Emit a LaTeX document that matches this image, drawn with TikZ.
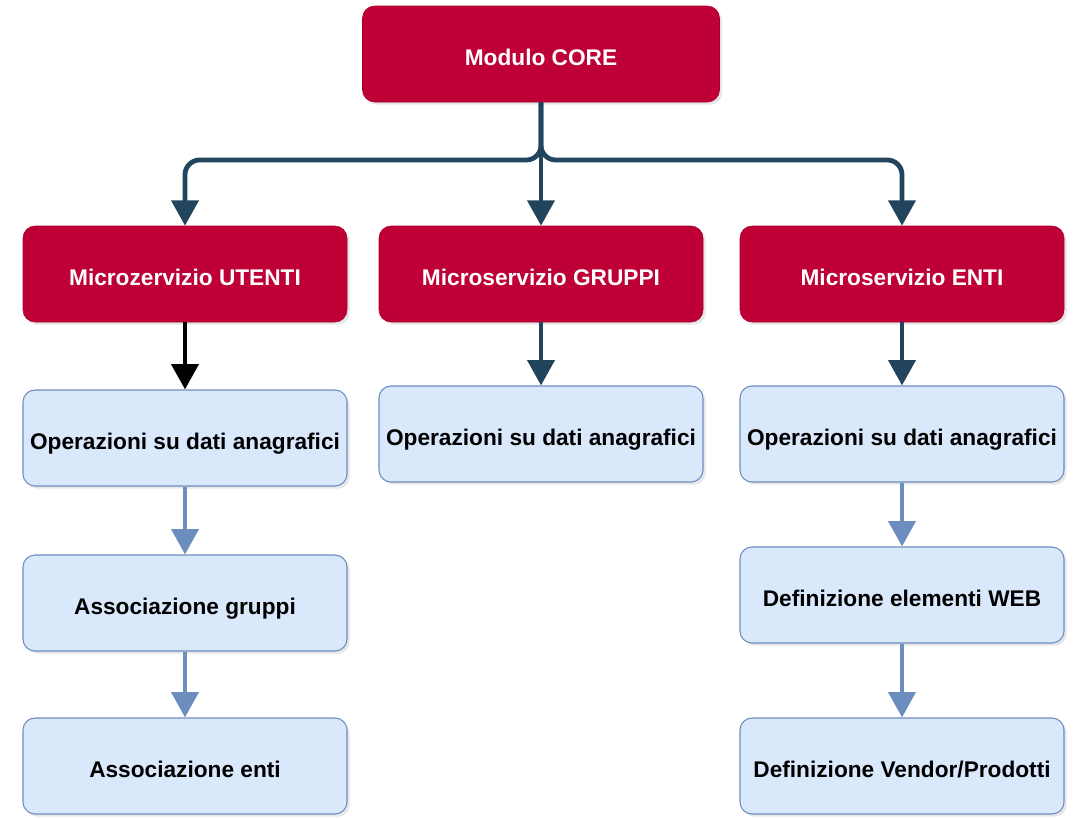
\documentclass[tikz,border=0pt]{standalone}
\usepackage{fontspec}
\setmainfont{Liberation Sans}
\usetikzlibrary{arrows.meta,shadows}

\definecolor{corered}{HTML}{BE0036}
\definecolor{coreline}{HTML}{A8002E}
\definecolor{treeblue}{HTML}{23445D}
\definecolor{lightfill}{HTML}{DAE8FC}
\definecolor{lightline}{HTML}{6C8EBF}

\tikzset{
  box/.style={rectangle, rounded corners=9pt, minimum width=243pt, minimum height=72pt,
    font=\bfseries\fontsize{17}{20}\selectfont, text height=18pt, text depth=1pt,
    drop shadow={shadow xshift=2pt, shadow yshift=-2pt, opacity=0.2}},
  redbox/.style={box, fill=corered, draw=coreline, text=white},
  bluebox/.style={box, fill=lightfill, draw=lightline, line width=0.8pt, text=black},
  tipline/.style={-{Triangle[width=20pt,length=19pt]}, line width=3.6pt},
  tree/.style={tipline, draw=treeblue, rounded corners=11pt},
  flowarrow/.style={tipline, draw=lightline}
}

\begin{document}
\begin{tikzpicture}[x=0.75pt,y=-0.75pt]
      \useasboundingbox (0,0) rectangle (1074,818);

      \node[redbox, minimum width=267.75pt] (core) at (541,54) {Modulo CORE};

      \node[redbox] (utenti) at (185,274) {Microzervizio UTENTI};
      \node[redbox] (gruppi) at (541,274) {Microservizio GRUPPI};
      \node[redbox] (enti) at (902,274) {Microservizio ENTI};

      \node[bluebox] (opu) at (185,438) {Operazioni su dati anagrafici};
      \node[bluebox] (assg) at (185,603) {Associazione gruppi};
      \node[bluebox] (asse) at (185,766) {Associazione enti};

      \node[bluebox] (opg) at (541,434) {Operazioni su dati anagrafici};

      \node[bluebox] (ope) at (902,434) {Operazioni su dati anagrafici};
      \node[bluebox] (defweb) at (902,595) {Definizione elementi WEB};
      \node[bluebox] (defvend) at (902,766) {Definizione Vendor/Prodotti};

      \coordinate (split) at (541,160);
      \draw[tree] (core.south) -- (split) -| (utenti.north);
      \draw[tree] (core.south) -- (split) -| (enti.north);
      \draw[tree] (core.south) -- (gruppi.north);

      \draw[tipline, draw=black] (utenti) -- (opu);
      \draw[tree] (gruppi) -- (opg);
      \draw[tree] (enti) -- (ope);

      \draw[flowarrow] (opu) -- (assg);
      \draw[flowarrow] (assg) -- (asse);
      \draw[flowarrow] (ope) -- (defweb);
      \draw[flowarrow] (defweb) -- (defvend);
    \end{tikzpicture}
\end{document}
